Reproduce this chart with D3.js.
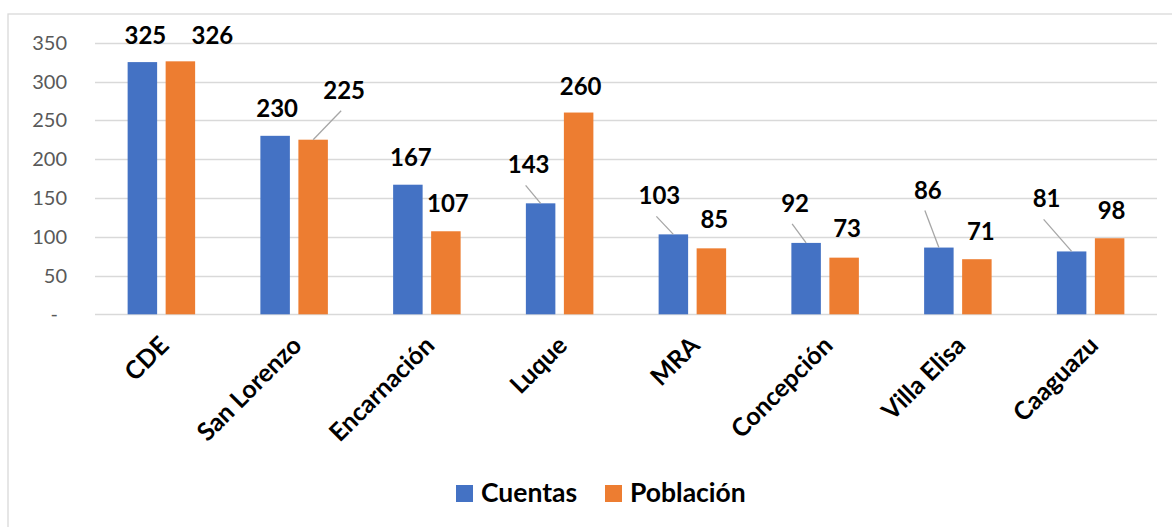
<!DOCTYPE html>
<html>
<head>
<meta charset="utf-8">
<script src="https://cdn.jsdelivr.net/npm/d3@7"></script>
<style>
  body { margin: 0; background: #fff; }
  svg { display: block; font-family: Lato, "Open Sans", sans-serif; }
</style>
</head>
<body>
<div id="chart"></div>
<script>
var ciudades = ["CDE", "San Lorenzo", "Encarnación", "Luque", "MRA", "Concepción", "Villa Elisa", "Caaguazu"];
var cuentas = [325, 230, 167, 143, 103, 92, 86, 81];
var poblacion = [326, 225, 107, 260, 85, 73, 71, 98];
var series = ["Cuentas", "Población"];
var yTicks = [0, 50, 100, 150, 200, 250, 300, 350];

// label offsets from bar top (pixels), as laid out in the original
var offCuentas = [[3, -18], [2, -19], [3, -19], [-12, -30], [-14, -30], [-11, -31], [-11, -49], [-25, -44]];
var offPoblacion = [[32, -17], [31, -41], [2, -19], [2, -18], [3, -20], [3, -21], [4, -19], [2, -19]];

var width = 1172, height = 527;
var colors = {"Cuentas": "#4472C4", "Población": "#ED7D31"};

var svg = d3.select("#chart").append("svg")
  .attr("width", width)
  .attr("height", height);

// chart border (only left and top visible in crop)
svg.append("rect")
  .attr("x", 8).attr("y", 14)
  .attr("width", 1300).attr("height", 600)
  .style("fill", "none")
  .style("stroke", "#d9d9d9")
  .style("stroke-width", 1.3);

var x0 = d3.scaleBand()
  .domain(ciudades)
  .range([95, 1157])
  .paddingInner(0.4915)
  .paddingOuter(0.2458);

var x1 = d3.scaleBand()
  .domain(series)
  .range([0, x0.bandwidth()])
  .paddingInner(0.224);

var y = d3.scaleLinear()
  .domain([0, 350])
  .range([314.3, 42.7]);

// grid
svg.append("g").selectAll("line")
  .data(yTicks)
  .enter().append("line")
  .attr("x1", 95).attr("x2", 1157)
  .attr("y1", function(d) { return Math.round(y(d)) + 0.5; })
  .attr("y2", function(d) { return Math.round(y(d)) + 0.5; })
  .style("stroke", "#d9d9d9")
  .style("stroke-width", 1.3);

// y labels
svg.append("g").selectAll("text")
  .data(yTicks)
  .enter().append("text")
  .attr("x", function(d) { return d === 0 ? 58 : 67; })
  .attr("y", function(d) { return y(d) + 7; })
  .attr("text-anchor", "end")
  .style("font-size", "20px")
  .style("fill", "#595959")
  .text(function(d) { return d === 0 ? "-" : d; });

var rows = ciudades.map(function(c, i) {
  return [
    {city: c, key: "Cuentas", value: cuentas[i], off: offCuentas[i]},
    {city: c, key: "Población", value: poblacion[i], off: offPoblacion[i]}
  ];
});
var flat = d3.merge(rows);

function barCenter(d) { return x0(d.city) + x1(d.key) + x1.bandwidth() / 2; }

svg.append("g").selectAll("rect")
  .data(flat)
  .enter().append("rect")
  .attr("x", function(d) { return x0(d.city) + x1(d.key); })
  .attr("y", function(d) { return y(d.value); })
  .attr("width", x1.bandwidth())
  .attr("height", function(d) { return y(0) - y(d.value); })
  .style("fill", function(d) { return colors[d.key]; });

// leader lines
svg.append("g").selectAll("line")
  .data(flat.filter(function(d) { return d.off[1] < -25; }))
  .enter().append("line")
  .attr("x1", function(d) { return barCenter(d) + d.off[0] - 3; })
  .attr("y1", function(d) { return y(d.value) + d.off[1] + 12; })
  .attr("x2", function(d) { return barCenter(d); })
  .attr("y2", function(d) { return y(d.value); })
  .style("stroke", "#a6a6a6")
  .style("stroke-width", 1.3);

// data labels
svg.append("g").selectAll("text")
  .data(flat)
  .enter().append("text")
  .attr("x", function(d) { return barCenter(d) + d.off[0]; })
  .attr("y", function(d) { return y(d.value) + d.off[1]; })
  .attr("text-anchor", "middle")
  .style("font-size", "24px")
  .style("font-weight", "bold")
  .style("fill", "#000")
  .text(function(d) { return d.value; });

// x labels
svg.append("g").selectAll("text")
  .data(ciudades)
  .enter().append("text")
  .attr("transform", function(d) {
    return "translate(" + (x0(d) + x0.bandwidth() / 2 + 9) + ",347) rotate(-45)";
  })
  .attr("text-anchor", "end")
  .style("font-size", "25px")
  .style("font-weight", "bold")
  .style("fill", "#000")
  .text(function(d) { return d; });

// legend
var legend = svg.append("g");
var legendX = [456, 605];
series.forEach(function(s, i) {
  legend.append("rect")
    .attr("x", legendX[i]).attr("y", 485)
    .attr("width", 17).attr("height", 17)
    .style("fill", colors[s]);
  legend.append("text")
    .attr("x", legendX[i] + 25).attr("y", 502)
    .style("font-size", "26.5px")
    .style("font-weight", "bold")
    .style("fill", "#000")
    .text(s);
});
</script>
</body>
</html>
